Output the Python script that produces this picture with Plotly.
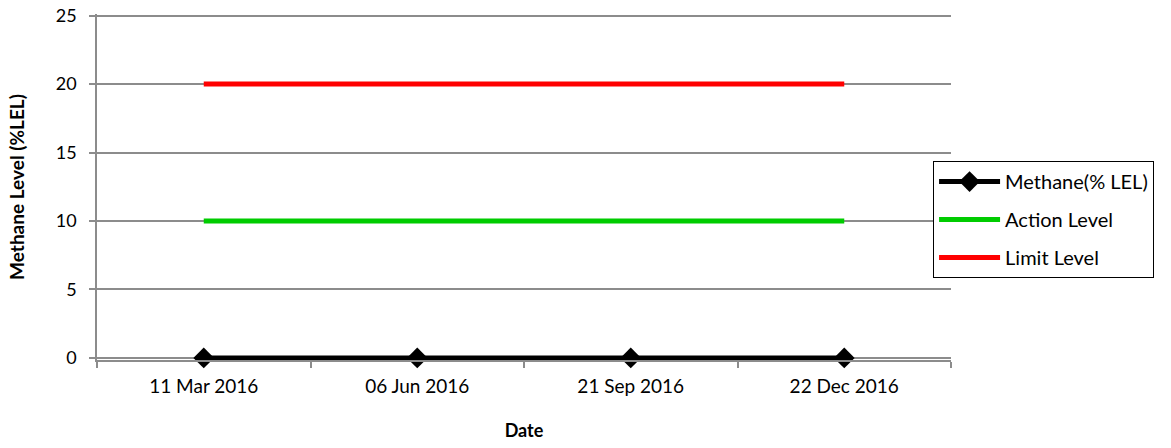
import plotly.graph_objects as go

dates = ["11 Mar 2016", "06 Jun 2016", "21 Sep 2016", "22 Dec 2016"]
methane = [0, 0, 0, 0]
action_level = [10, 10, 10, 10]
limit_level = [20, 20, 20, 20]
y_ticks = [0, 5, 10, 15, 20, 25]

FONT = "Lato"
GRID = "#8c8c8c"

fig = go.Figure()
fig.add_trace(go.Scatter(
    x=dates, y=methane, name="Methane(% LEL)", mode="lines+markers",
    line=dict(color="black", width=5), legendgroup="a", cliponaxis=False,
    marker=dict(symbol="diamond", size=16, color="black"),
))
fig.add_trace(go.Scatter(
    x=dates, y=action_level, name="Action Level", mode="lines",
    line=dict(color="#00cc00", width=5), legendgroup="b",
))
fig.add_trace(go.Scatter(
    x=dates, y=limit_level, name="Limit Level", mode="lines",
    line=dict(color="#ff0000", width=5), legendgroup="c",
))

fig.update_layout(
    width=1171, height=448,
    margin=dict(l=97, r=220, t=14, b=88, autoexpand=False),
    paper_bgcolor="white", plot_bgcolor="white",
    font=dict(family=FONT, size=18, color="black"),
    showlegend=True,
    legend=dict(
        x=0.979, y=0.575, xanchor="left", yanchor="top",
        bordercolor="black", borderwidth=1, bgcolor="white",
        font=dict(family=FONT, size=20, color="black"),
        itemwidth=61, tracegroupgap=9,
        traceorder="grouped",
    ),
)
fig.update_xaxes(
    type="category", categoryorder="array", categoryarray=dates,
    range=[-0.5, 3.5], automargin=False,
    showline=True, linecolor=GRID, linewidth=1.5,
    showgrid=False, zeroline=False,
    ticks="outside", tickson="boundaries", ticklen=6, tickcolor=GRID, tickwidth=1.5,
    ticklabelstandoff=8,
    tickfont=dict(family=FONT, size=19),
    title=dict(text="<b>Date</b>", font=dict(family=FONT, size=18), standoff=29),
)
fig.update_yaxes(
    range=[-0.15, 25.12], tickvals=y_ticks, automargin=False,
    ticklabeloverflow="allow",
    showline=True, linecolor=GRID, linewidth=1.5,
    showgrid=True, gridcolor=GRID, gridwidth=1.5,
    zeroline=True, zerolinecolor=GRID, zerolinewidth=1.5,
    ticks="outside", ticklen=6, tickcolor=GRID, tickwidth=1.5,
    ticklabelstandoff=9,
    tickfont=dict(family=FONT, size=18),
    title=dict(text="<b>Methane Level (%LEL)</b>", font=dict(family=FONT, size=19), standoff=26),
)

fig.write_html("out.html", config={"displayModeBar": False},
               post_script="document.body.style.margin='0';")
